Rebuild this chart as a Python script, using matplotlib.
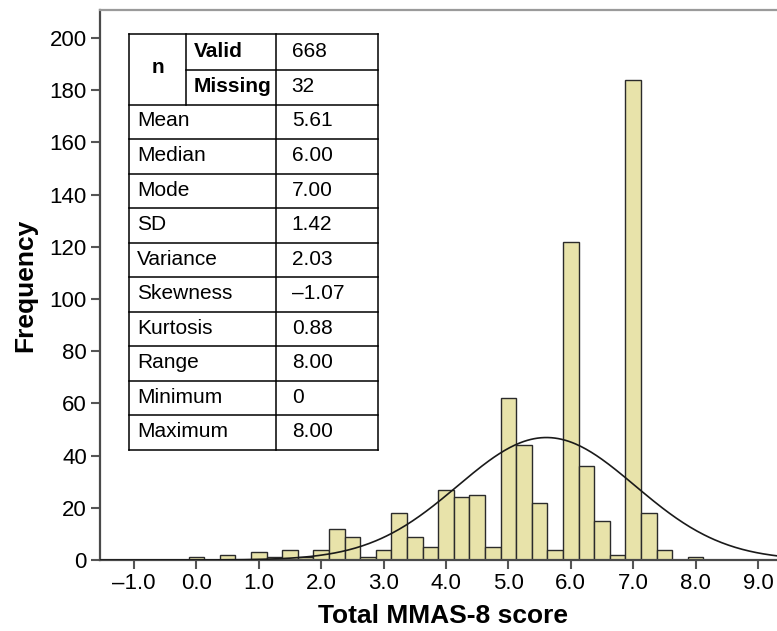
import numpy as np
import matplotlib
matplotlib.use("Agg")
import matplotlib.pyplot as plt
from matplotlib.lines import Line2D

plt.rcParams['font.family'] = ['Liberation Sans', 'DejaVu Sans']

# histogram of total MMAS-8 score, bins 0.25 wide
bin_centers = [0.0, 0.25, 0.5, 0.75, 1.0, 1.25, 1.5, 1.75, 2.0, 2.25, 2.5, 2.75,
               3.0, 3.25, 3.5, 3.75, 4.0, 4.25, 4.5, 4.75, 5.0, 5.25, 5.5, 5.75,
               6.0, 6.25, 6.5, 6.75, 7.0, 7.25, 7.5, 7.75, 8.0]
counts = [1, 0, 2, 0, 3, 1, 4, 1, 4, 12, 9, 1,
          4, 18, 9, 5, 27, 24, 25, 5, 62, 44, 22, 4,
          122, 36, 15, 2, 184, 18, 4, 0, 1]
bin_width = 0.25

# summary stats (also used for the normal curve)
n_valid = 668
n_missing = 32
mean = 5.61
sd = 1.42
stat_names = ['Mean', 'Median', 'Mode', 'SD', 'Variance', 'Skewness',
              'Kurtosis', 'Range', 'Minimum', 'Maximum']
stat_values = ['5.61', '6.00', '7.00', '1.42', '2.03', '\u20131.07',
               '0.88', '8.00', '0', '8.00']

x_ticks = [-1, 0, 1, 2, 3, 4, 5, 6, 7, 8, 9]
x_tick_labels = ['\u20131.0', '0.0', '1.0', '2.0', '3.0', '4.0', '5.0',
                 '6.0', '7.0', '8.0', '9.0']
y_ticks = [0, 20, 40, 60, 80, 100, 120, 140, 160, 180, 200]

W, H = 777, 631
fig = plt.figure(figsize=(W / 100, H / 100), dpi=100)
ax = fig.add_axes([100 / W, 1 - 560 / H, 685 / W, 550 / H])

ax.bar(bin_centers, counts, width=bin_width, color='#e8e3aa',
       edgecolor='#2b2b2b', linewidth=1.0, zorder=2)

xs = np.linspace(-1.6, 9.5, 400)
curve = n_valid * bin_width / (sd * np.sqrt(2 * np.pi)) * np.exp(-0.5 * ((xs - mean) / sd) ** 2)
ax.plot(xs, curve, color='#1a1a1a', lw=1.2, zorder=3)

ax.set_xlim(-1.545, 9.433)
ax.set_ylim(0, 210.7)
ax.set_xticks(x_ticks)
ax.set_xticklabels(x_tick_labels)
ax.set_yticks(y_ticks)
ax.tick_params(axis='both', direction='out', length=6.5, width=1.5,
               color='#555555', labelsize=16, pad=3)

for side in ['left', 'bottom']:
    ax.spines[side].set_color('#4a4a4a')
    ax.spines[side].set_linewidth(1.6)
ax.spines['top'].set_color('#9a9a9a')
ax.spines['top'].set_linewidth(1.6)
ax.spines['right'].set_visible(False)

ax.set_xlabel('Total MMAS-8 score', fontsize=19, fontweight='bold', labelpad=7)
ax.set_ylabel('Frequency', fontsize=19, fontweight='bold', labelpad=9)

# stats table drawn by hand (the "n" cell spans two rows)
def fx(px):
    return px / W

def fy(py):
    return 1 - py / H

t_left, c1, c2, t_right = 129, 186, 275.7, 378
t_top = 34.3
row_edges = [34.3, 70.3, 104.7]
row_h = (450 - 104.7) / len(stat_names)
for i in range(len(stat_names)):
    row_edges.append(104.7 + (i + 1) * row_h)

def hline(x0, x1, y):
    fig.add_artist(Line2D([fx(x0), fx(x1)], [fy(y), fy(y)], color='black',
                          lw=1.1, zorder=6))

def vline(x, y0, y1):
    fig.add_artist(Line2D([fx(x), fx(x)], [fy(y0), fy(y1)], color='black',
                          lw=1.1, zorder=6))

# white background under table
fig.add_artist(plt.Rectangle((fx(t_left), fy(row_edges[-1])),
                             fx(t_right) - fx(t_left), fy(t_top) - fy(row_edges[-1]),
                             transform=fig.transFigure, facecolor='white',
                             edgecolor='none', zorder=5))

hline(t_left, t_right, row_edges[0])
hline(c1, t_right, row_edges[1])
for y in row_edges[2:]:
    hline(t_left, t_right, y)
vline(t_left, row_edges[0], row_edges[-1])
vline(c1, row_edges[0], row_edges[2])
vline(c2, row_edges[0], row_edges[-1])
vline(t_right, row_edges[0], row_edges[-1])

fs = 15
def cell(x, y, s, bold=False, ha='left'):
    fig.text(fx(x), fy(y), s, fontsize=fs, fontweight='bold' if bold else 'normal',
             ha=ha, va='center', zorder=7)

cell((t_left + c1) / 2, row_edges[1] - 3, 'n', bold=True, ha='center')
cell(c1 + 8, (row_edges[0] + row_edges[1]) / 2 - 1, 'Valid', bold=True)
cell(c1 + 8, (row_edges[1] + row_edges[2]) / 2 - 1, 'Missing', bold=True)
cell(c2 + 16, (row_edges[0] + row_edges[1]) / 2 - 1, str(n_valid))
cell(c2 + 16, (row_edges[1] + row_edges[2]) / 2 - 1, str(n_missing))
for i, (name, val) in enumerate(zip(stat_names, stat_values)):
    yc = (row_edges[i + 2] + row_edges[i + 3]) / 2 - 1
    cell(t_left + 8, yc, name)
    cell(c2 + 16, yc, val)

fig.savefig('out.png', dpi=100)
